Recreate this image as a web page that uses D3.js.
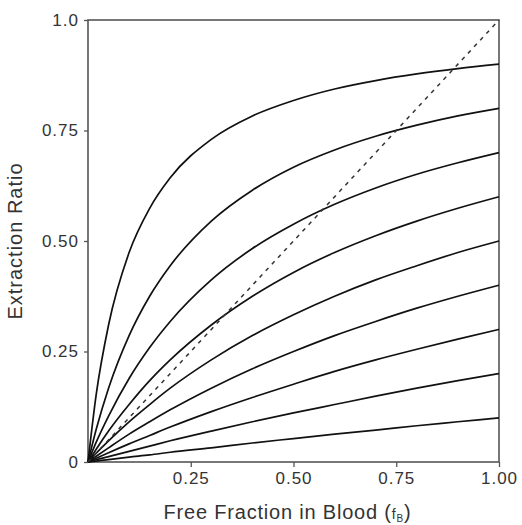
<!DOCTYPE html>
<html>
<head>
<meta charset="utf-8">
<script src="https://cdn.jsdelivr.net/npm/d3@7"></script>
<style>
  html, body { margin:0; padding:0; background:#fff; }
  svg text { font-family: "Liberation Sans", Arial, sans-serif; }
</style>
</head>
<body>
<div id="chart"></div>
<script>
// free fraction sample points (x) and extraction ratio read for each curve
const fB = [0, 0.02, 0.05, 0.1, 0.15, 0.2, 0.3, 0.4, 0.5, 0.6, 0.7, 0.8, 0.9, 1.0];
const curve90 = [0, 0.153, 0.31, 0.474, 0.574, 0.643, 0.73, 0.783, 0.818, 0.844, 0.863, 0.878, 0.89, 0.90];
const curve80 = [0, 0.074, 0.167, 0.286, 0.375, 0.444, 0.545, 0.615, 0.667, 0.706, 0.737, 0.762, 0.783, 0.80];
const curve70 = [0, 0.045, 0.104, 0.189, 0.259, 0.318, 0.412, 0.483, 0.538, 0.583, 0.62, 0.651, 0.677, 0.70];
const curve60 = [0, 0.029, 0.07, 0.13, 0.184, 0.231, 0.31, 0.375, 0.429, 0.474, 0.512, 0.545, 0.574, 0.60];
const curve50 = [0, 0.02, 0.048, 0.091, 0.13, 0.167, 0.231, 0.286, 0.333, 0.375, 0.412, 0.444, 0.474, 0.50];
const curve40 = [0, 0.013, 0.032, 0.063, 0.091, 0.118, 0.167, 0.211, 0.25, 0.286, 0.318, 0.348, 0.375, 0.40];
const curve30 = [0, 0.0085, 0.021, 0.041, 0.06, 0.079, 0.114, 0.146, 0.176, 0.205, 0.231, 0.255, 0.278, 0.30];
const curve20 = [0, 0.005, 0.012, 0.024, 0.036, 0.048, 0.07, 0.091, 0.111, 0.13, 0.149, 0.167, 0.184, 0.20];
const curve10 = [0, 0.002, 0.0055, 0.011, 0.016, 0.022, 0.032, 0.043, 0.053, 0.063, 0.072, 0.082, 0.091, 0.10];
const curves = [curve90, curve80, curve70, curve60, curve50, curve40, curve30, curve20, curve10];
// identity line (dashed)
const identity = [[0, 0], [1, 1]];

const xTicks = [0.25, 0.5, 0.75, 1.0];
const xTickLabels = ['0.25', '0.50', '0.75', '1.00'];
const yTicks = [0, 0.25, 0.5, 0.75, 1.0];
const yTickLabels = ['0', '0.25', '0.50', '0.75', '1.0'];

(function(){
  const width = 522, height = 525;
  const margin = {top:20, right:23, bottom:63, left:88};
  const innerW = width - margin.left - margin.right;
  const innerH = height - margin.top - margin.bottom;

  const svg = d3.select('#chart').append('svg')
    .attr('width', width)
    .attr('height', height);
  const g = svg.append('g')
    .attr('transform', `translate(${margin.left},${margin.top})`);

  const x = d3.scaleLinear().domain([0, 1]).range([0, innerW]);
  const y = d3.scaleLinear().domain([0, 1]).range([innerH, 0]);

  const axisColor = '#555';

  // frame
  g.append('rect')
    .attr('x', 0).attr('y', 0)
    .attr('width', innerW).attr('height', innerH)
    .attr('fill', 'none')
    .attr('stroke', axisColor)
    .attr('stroke-width', 1.6);

  // axes
  const xAxis = g.append('g')
    .attr('transform', `translate(0,${innerH})`)
    .call(d3.axisBottom(x).tickValues(xTicks)
      .tickFormat((d,i) => xTickLabels[i]).tickSizeOuter(0).tickSize(5).tickPadding(4));
  const yAxis = g.append('g')
    .call(d3.axisLeft(y).tickValues(yTicks)
      .tickFormat((d,i) => yTickLabels[i]).tickSizeOuter(0).tickSize(4).tickPadding(5));
  [xAxis, yAxis].forEach(a => {
    a.select('.domain').remove();
    a.selectAll('line').attr('stroke', axisColor).attr('stroke-width', 1.3);
    a.selectAll('text')
      .attr('fill', '#333')
      .style('font-size', '17px')
      .style('letter-spacing', '1px');
  });
  xAxis.selectAll('text').attr('dy', '0.75em');

  // curves
  const line = d3.line()
    .x((d,i) => x(fB[i]))
    .y(d => y(d))
    .curve(d3.curveMonotoneX);
  g.selectAll('path.curve')
    .data(curves)
    .enter().append('path')
    .attr('class', 'curve')
    .attr('d', line)
    .attr('fill', 'none')
    .attr('stroke', '#111')
    .attr('stroke-width', 1.7);

  // dashed identity line
  g.append('path')
    .attr('d', d3.line().x(d => x(d[0])).y(d => y(d[1]))(identity))
    .attr('fill', 'none')
    .attr('stroke', '#333')
    .attr('stroke-width', 1.5)
    .attr('stroke-dasharray', '4,5');

  // axis titles
  const xt = svg.append('text')
    .attr('x', margin.left + innerW / 2 - 6)
    .attr('y', 519)
    .attr('text-anchor', 'middle')
    .attr('fill', '#333')
    .style('font-size', '20px')
    .style('letter-spacing', '0.8px');
  xt.append('tspan').text('Free Fraction in Blood (');
  xt.append('tspan').style('font-size', '14px').text('f');
  xt.append('tspan').style('font-size', '10px').attr('dy', 3).text('B');
  xt.append('tspan').attr('dy', -3).text(')');

  svg.append('text')
    .attr('transform', 'rotate(-90)')
    .attr('x', -(margin.top + innerH / 2))
    .attr('y', 22)
    .attr('text-anchor', 'middle')
    .attr('fill', '#333')
    .style('font-size', '20px')
    .style('letter-spacing', '1px')
    .text('Extraction Ratio');
})();
</script>
</body>
</html>
